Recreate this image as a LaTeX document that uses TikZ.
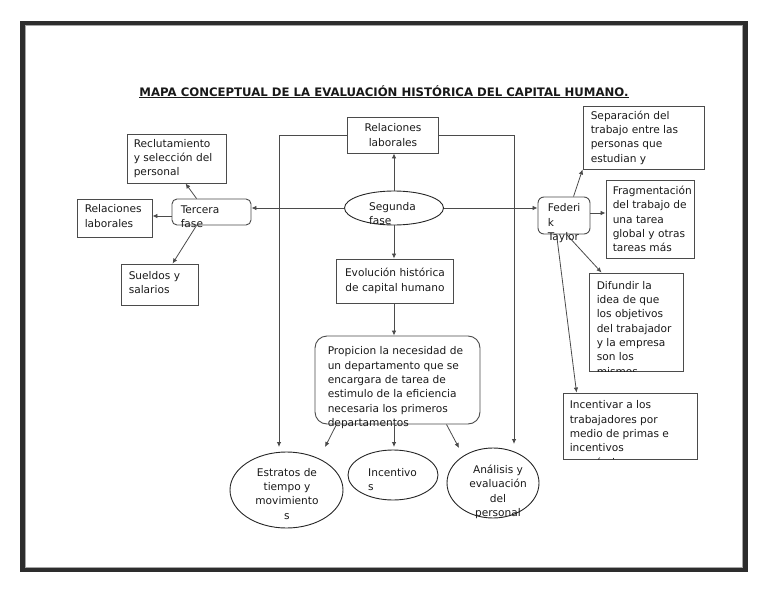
\documentclass[tikz,border=0pt]{standalone}
\usepackage{fontspec}
\setmainfont{DejaVu Sans}
\usepackage{xcolor}
\usepackage{tikz}
\usetikzlibrary{shapes.geometric,arrows.meta,positioning}
\definecolor{linea}{RGB}{75,75,75}
\definecolor{marco}{RGB}{45,45,45}
\tikzset{
    caja/.style={draw=linea, line width=0.9pt, inner sep=0pt},
    redonda/.style={caja, rounded corners=#1}, redonda/.default=8pt,
    elipse/.style={draw=black!85, ellipse, line width=0.9pt, inner sep=0pt},
    texto/.style={inner sep=0pt, align=left, font=\fontsize{10.6}{14.3}\selectfont, text=black!90},
    flecha/.style={draw=linea, line width=0.8pt, -{Latex[length=5pt,width=4.5pt]}}}

\begin{document}
\begin{tikzpicture}[x=1pt,y=-1pt]
\useasboundingbox (0,0) rectangle (768,594);
\draw[marco, line width=4.5pt] (22.5,23) rectangle (745.5,570);
\draw[gray!70, line width=1.2pt] (25.6,25.6) rectangle (742.4,567.4);

\node[font=\fontsize{11.7}{13}\selectfont\bfseries, text=black!90, anchor=base] (titulo) at (384,96) {\underline{MAPA CONCEPTUAL DE LA EVALUACIÓN HISTÓRICA DEL CAPITAL HUMANO.}};

% centro
\node[caja, texto, align=center, minimum width=91pt, minimum height=36pt] (rel) at (393,135) {Relaciones\\laborales};
\node[elipse, minimum width=99pt, minimum height=34pt] (seg) at (394,208) {};
\node[texto, anchor=north west] (segT) at (369,202) {Segunda\\fase};
\node[caja, texto, align=center, minimum width=117pt, minimum height=44pt] (evo) at (395,281) {Evolución histórica\\de capital humano};
\node[redonda=12pt, minimum width=165pt, minimum height=88pt] (prop) at (397.5,380) {};
\node[texto, anchor=north west] (propT) at ([xshift=13pt,yshift=-11pt]prop.north west) {Propicion la necesidad de\\un departamento que se\\encargara de tarea de\\estimulo de la eficiencia\\necesaria los primeros\\departamentos};

\node[elipse, minimum width=113pt, minimum height=76pt] (est) at (286.5,490) {};
\node[texto, align=center, anchor=north] (estT) at (287,468) {Estratos de\\tiempo y\\movimiento\\s};
\node[elipse, minimum width=90pt, minimum height=50pt] (inc) at (393,475) {};
\node[texto, anchor=north west] (incT) at (368,468) {Incentivo\\s};
\node[elipse, minimum width=92pt, minimum height=70pt] (ana) at (493,483) {};
\node[texto, align=center, anchor=north] (anaT) at (498,465) {Análisis y\\evaluación\\del\\personal};

% izquierda
\node[redonda=5pt, minimum width=79pt, minimum height=26pt] (ter) at (211.5,212) {};
\node[texto, anchor=north west] (terT) at ([xshift=9pt,yshift=-7pt]ter.north west) {Tercera\\fase};
\node[caja, minimum width=99pt, minimum height=49pt] (recl) at (176.5,158.5) {};
\node[texto, anchor=west] (reclT) at ([xshift=7pt]recl.west) {Reclutamiento\\y selección del\\personal};
\node[caja, minimum width=75pt, minimum height=38pt] (rell) at (114.5,218) {};
\node[texto, anchor=west] (rellT) at ([xshift=8pt,yshift=2pt]rell.west) {Relaciones\\laborales};
\node[caja, minimum width=77pt, minimum height=41pt] (sue) at (159.5,284.5) {};
\node[texto, anchor=west] (sueT) at ([xshift=8pt,yshift=2pt]sue.west) {Sueldos y\\salarios};

% derecha
\node[redonda=6pt, minimum width=52pt, minimum height=37pt] (fed) at (564,215.5) {};
\node[texto, anchor=north west] (fedT) at ([xshift=10pt,yshift=-7pt]fed.north west) {Federi\\k\\Taylor};
\node[caja, minimum width=121pt, minimum height=63pt] (sep) at (643.5,137.5) {};
\node[texto, anchor=west] (sepT) at ([xshift=8pt]sep.west) {Separación del\\trabajo entre las\\personas que\\estudian y};
\node[caja, minimum width=88pt, minimum height=78pt] (fra) at (650,219) {};
\node[texto, anchor=west] (fraT) at ([xshift=7pt]fra.west) {Fragmentación\\del trabajo de\\una tarea\\global y otras\\tareas más};
\node[caja, minimum width=94pt, minimum height=98pt] (dif) at (636,322) {};
\begin{scope}
\clip (dif.north west) rectangle (dif.south east);
\node[texto, anchor=north west] (difT) at ([xshift=8pt,yshift=-8.5pt]dif.north west) {Difundir la\\idea de que\\los objetivos\\del trabajador\\y la empresa\\son los\\mismos};
\end{scope}
\node[caja, minimum width=134pt, minimum height=66pt] (ince) at (630,426) {};
\begin{scope}
\clip (ince.north west) rectangle (ince.south east);
\node[texto, anchor=north west] (inceT) at ([xshift=7pt,yshift=-8pt]ince.north west) {Incentivar a los\\trabajadores por\\medio de primas e\\incentivos\\económicos};
\end{scope}

\coordinate (estA) at (279,447);
\coordinate (anaA) at (514,444);
\coordinate (propEst) at (325,447);
\coordinate (propInc) at (394,447);
\coordinate (propAna) at (459,448);

\draw[flecha] (seg.north) -- (seg.north |- rel.south);
\draw[flecha] (seg.south) -- (seg.south |- evo.north);
\draw[flecha] (seg.south |- evo.south) -- (seg.south |- prop.north);
\draw[flecha] (seg.west) -- (seg.west -| ter.east);
\draw[flecha] (seg.east) -- (seg.east -| fed.west);
\draw[flecha] (rel.west) -| (estA);
\draw[flecha] (rel.east) -| (anaA);
\draw[flecha] ([xshift=-61pt]prop.south) -- (propEst);
\draw[flecha] (seg.south |- prop.south) -- (propInc);
\draw[flecha] ([xshift=49pt]prop.south) -- (propAna);

\draw[flecha] ([xshift=25pt]ter.north west) -- ([xshift=59pt]recl.south west);
\draw[flecha] ([yshift=-4pt]ter.west) -- ([yshift=-4pt]ter.west -| rell.east);
\draw[flecha] ([xshift=25pt]ter.south west) -- ([xshift=52pt]sue.north west);

\draw[flecha] ([xshift=36pt]fed.north west) -- (sep.south west);
\draw[flecha] ([yshift=2.5pt]fed.east) -- ([yshift=2.5pt]fed.east -| fra.west);
\draw[flecha] ([xshift=29pt]fed.south west) -- ([xshift=13pt]dif.north west);
\draw[flecha] ([xshift=19pt]fed.south west) -- ([xshift=14pt]ince.north west);
\end{tikzpicture}
\end{document}
